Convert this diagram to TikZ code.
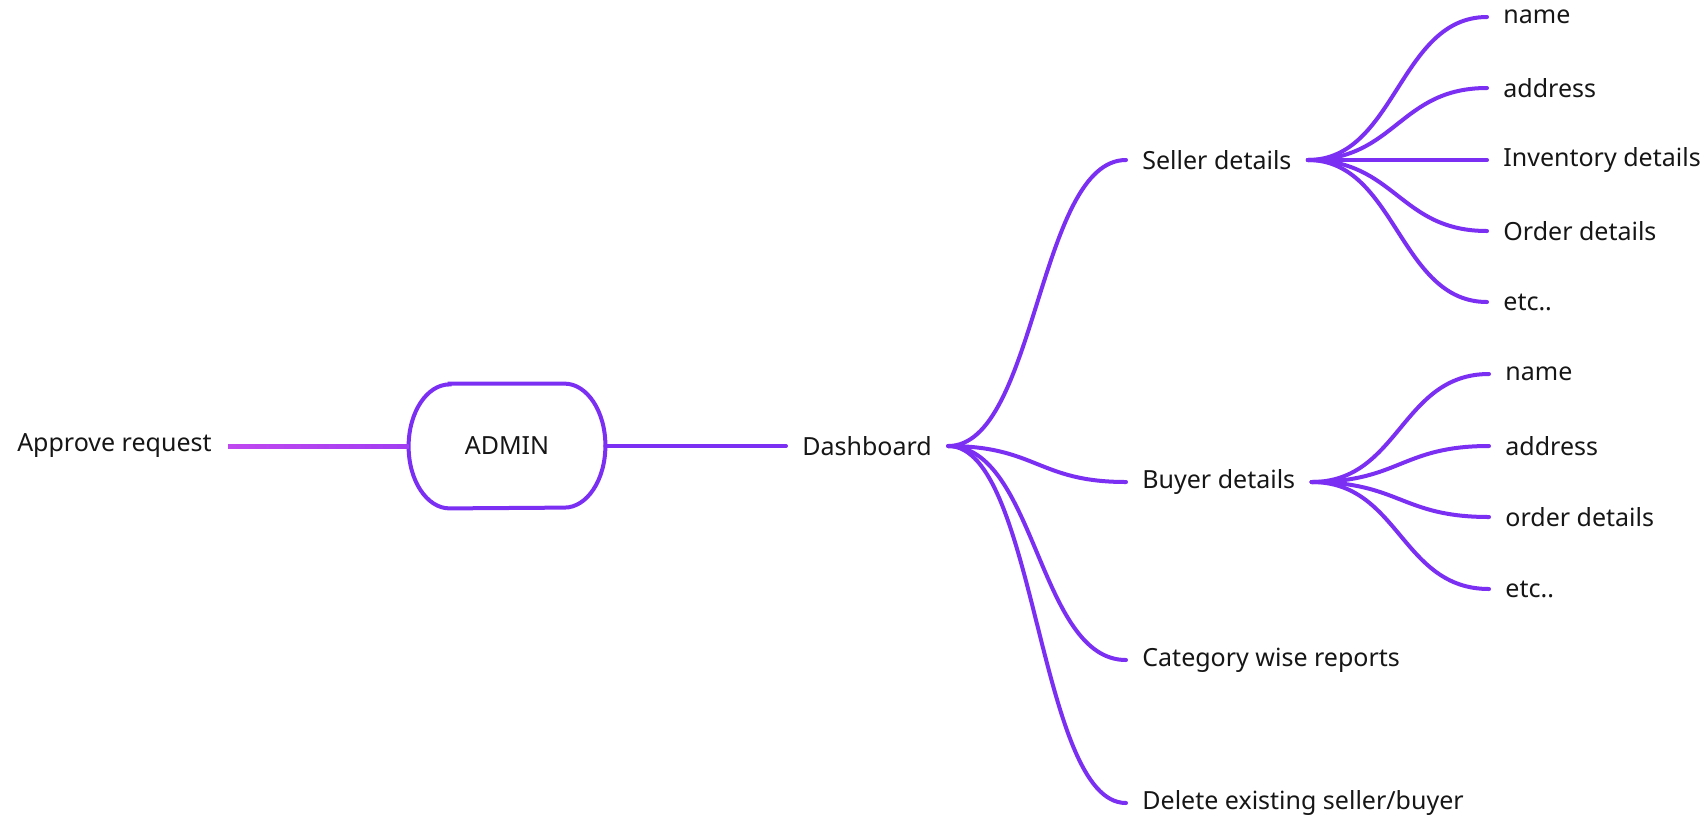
\documentclass[tikz,border=0pt]{standalone}
\usepackage{fontspec}
\setmainfont{Noto Sans}
\usetikzlibrary{calc}
\definecolor{brpurple}{RGB}{123,47,242}
\definecolor{brmagenta}{RGB}{192,72,240}
\definecolor{txt}{RGB}{22,22,22}
\tikzset{
  lbl/.style={inner xsep=8pt, inner ysep=2pt, text=txt, font=\fontsize{12.5}{15}\selectfont},
  branch/.style={draw=brpurple, line width=2pt, line cap=round},
  sbranch/.style={branch, out=0, in=180, distance=44pt},
}
\begin{document}
\begin{tikzpicture}[x=0.5pt, y=-0.5pt]
\useasboundingbox (0,0) rectangle (1706,820);
% main nodes
\node[lbl, anchor=east] (app) at (228,446) {Approve request};
\node[lbl, minimum width=98pt, minimum height=62pt, inner sep=0pt] (admin) at (507,446) {ADMIN};
\node[lbl, anchor=west] (dash) at (786,446) {Dashboard};
\node[lbl, anchor=west] (seller) at (1126,160) {Seller details};
\node[lbl, anchor=west] (buyer) at (1126,482) {Buyer details};
\node[lbl, anchor=west] (cat) at (1126,660) {Category wise reports};
\node[lbl, anchor=west] (del) at (1126,803) {Delete existing seller/buyer};
% seller children
\node[lbl, anchor=west] (s1) at (1487,17) {name};
\node[lbl, anchor=west] (s2) at (1487,88) {address};
\node[lbl, anchor=west] (s3) at (1487,160) {Inventory details};
\node[lbl, anchor=west] (s4) at (1487,231) {Order details};
\node[lbl, anchor=west] (s5) at (1487,302) {etc..};
% buyer children
\node[lbl, anchor=west] (b1) at (1489,374) {name};
\node[lbl, anchor=west] (b2) at (1489,446) {address};
\node[lbl, anchor=west] (b3) at (1489,517) {order details};
\node[lbl, anchor=west] (b4) at (1489,589) {etc..};
% admin shape
\draw[brpurple, line width=2pt]
  ($(admin.north west)+(41,0)$) -- ($(admin.north east)+(-41,0)$)
  arc[start angle=90, end angle=-90, x radius=20.5pt, y radius=31pt]
  -- ($(admin.south west)+(41,0)$)
  arc[start angle=270, end angle=90, x radius=20.5pt, y radius=31pt] -- cycle;
% approve connector (gradient)
\shade[left color=brmagenta, right color=brmagenta!55!brpurple]
  ($(app.east)+(0,-2)$) rectangle ($(admin.west)+(0,2)$);
\draw[branch] (admin.east) -- (dash.west);
% dashboard branches
\foreach \t in {seller,buyer,cat,del} \draw[sbranch] (dash.east) to (\t.west);
\foreach \t in {s1,s2,s3,s4,s5} \draw[sbranch] (seller.east) to (\t.west);
\foreach \t in {b1,b2,b3,b4} \draw[sbranch] (buyer.east) to (\t.west);
\end{tikzpicture}
\end{document}
